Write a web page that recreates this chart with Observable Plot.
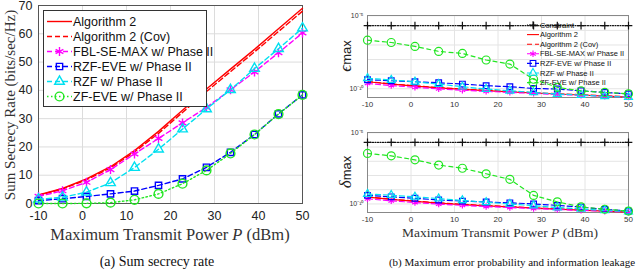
<!DOCTYPE html>
<html><head><meta charset="utf-8">
<script src="https://cdn.jsdelivr.net/npm/d3@7"></script>
<script src="https://cdn.jsdelivr.net/npm/@observablehq/plot@0.6"></script>
<style>
body{margin:0;background:#fff;}
#root{position:relative;width:640px;height:273px;overflow:hidden;background:#fff;}
.abs{position:absolute;}
.serif{font-family:"Liberation Serif","Times New Roman",serif;color:#333;white-space:nowrap;line-height:1;}
.rot{transform:translate(-50%,-50%) rotate(-90deg);}
.ctr{transform:translate(-50%,-50%);}
</style></head><body>
<div id="root">
  <div id="left" class="abs" style="left:0;top:0"></div>
  <div id="legL" class="abs" style="left:43px;top:10px"></div>
  <div class="abs serif rot" style="left:10px;top:105px;font-size:15px">Sum Secrecy Rate (bits/sec/Hz)</div>
  <div class="abs serif ctr" style="left:170px;top:235px;font-size:16.5px">Maximum Transmit Power <i>P</i> (dBm)</div>
  <div class="abs serif ctr" style="left:157px;top:262px;font-size:14px;color:#111">(a) Sum secrecy rate</div>

  <div id="rt" class="abs" style="left:330px;top:0"></div>
  <div id="rb" class="abs" style="left:330px;top:117px"></div>
  <div id="legR" class="abs" style="left:520px;top:18px"></div>
  <div class="abs rot" style="left:346px;top:56px;font-size:17px;color:#222;font-family:'Liberation Serif',serif;white-space:nowrap"><i>ϵ</i><span style="font-family:'Liberation Sans',sans-serif;font-size:13px">max</span></div>
  <div class="abs rot" style="left:346px;top:172px;font-size:17px;color:#222;font-family:'Liberation Serif',serif;white-space:nowrap"><i>δ</i><span style="font-family:'Liberation Sans',sans-serif;font-size:13px">max</span></div>
  <div class="abs serif ctr" style="left:500px;top:233px;font-size:13.5px">Maximum Transmit Power <i>P</i> (dBm)</div>
  <div class="abs serif ctr" style="left:512px;top:262px;font-size:11px;color:#111">(b) Maximum error probability and information leakage</div>
</div>
<script>
// ---------------- data ----------------
const P = [-10, -4.545, 0.909, 6.364, 11.818, 17.273, 22.727, 28.182, 33.636, 39.091, 44.545, 50];
const xTicks = [-10, 0, 10, 20, 30, 40, 50];
const rateTicks = [0, 10, 20, 30, 40, 50, 60, 70];
const leakTicks = [1e-10, 1e-5];
const leakTickLabels = ["10⁻¹⁰", "10⁻⁵"];
const leakGrid = [1e-10, 1e-9, 1e-8, 1e-7, 1e-6, 1e-5];

const seriesNames = ["Algorithm 2", "Algorithm 2 (Cov)", "FBL-SE-MAX w/ Phase II",
  "RZF-EVE w/ Phase II", "RZF w/ Phase II", "ZF-EVE w/ Phase II"];

// (a) sum secrecy rate (bits/sec/Hz)
const rateAlg2    = [3.0, 5.3, 8.7, 13.0, 18.7, 25.5, 33.0, 40.5, 47.5, 54.5, 61.8, 69.0];
const rateAlg2Cov = [2.9, 5.1, 8.4, 12.6, 18.2, 24.8, 32.2, 39.6, 46.6, 53.6, 60.8, 68.0];
const rateFbl     = [2.5, 4.5, 7.5, 12.0, 17.5, 23.0, 28.5, 34.0, 40.2, 46.5, 53.3, 60.3];
const rateRzfEve  = [1.0, 1.7, 2.5, 3.4, 4.4, 6.4, 8.7, 12.8, 18.1, 24.4, 31.7, 38.4];
const rateRzf     = [1.5, 2.2, 4.0, 7.3, 12.7, 19.2, 26.3, 33.4, 40.2, 47.7, 54.7, 62.0];
const rateZfEve   = [0.0, 0.0, 0.05, 0.3, 1.3, 3.4, 7.0, 11.7, 17.7, 24.4, 31.6, 38.4];

// (b) log10 of max error probability (epsilon) and leakage (delta)
const constraintValue = 2.1e-6;
const epsAlg2Exp    = [-9.52, -9.68, -9.82, -9.94, -10.04, -10.13, -10.21, -10.29, -10.36, -10.43, -10.50, -10.57];
const epsAlg2CovExp = [-9.50, -9.66, -9.80, -9.92, -10.02, -10.11, -10.19, -10.27, -10.34, -10.41, -10.48, -10.55];
const epsFblExp     = [-9.64, -9.78, -9.90, -10.01, -10.10, -10.18, -10.25, -10.32, -10.39, -10.45, -10.51, -10.57];
const epsRzfEveExp  = [-9.38, -9.45, -9.52, -9.59, -9.68, -9.79, -9.86, -9.98, -10.02, -10.14, -10.25, -10.36];
const epsRzfExp     = [-9.28, -9.40, -9.52, -9.68, -9.86, -10.02, -10.14, -10.25, -10.36, -10.43, -10.52, -10.58];
const epsZfEveExp   = [-6.67, -6.83, -7.10, -7.44, -7.58, -8.03, -8.31, -9.35, -9.90, -10.15, -10.25, -10.35];

const delAlg2Exp    = [-9.52, -9.68, -9.82, -9.94, -10.04, -10.13, -10.21, -10.29, -10.36, -10.43, -10.50, -10.57];
const delAlg2CovExp = [-9.50, -9.66, -9.80, -9.92, -10.02, -10.11, -10.19, -10.27, -10.34, -10.41, -10.48, -10.55];
const delFblExp     = [-9.64, -9.78, -9.90, -10.01, -10.10, -10.18, -10.25, -10.32, -10.39, -10.45, -10.51, -10.57];
const delRzfEveExp  = [-9.40, -9.50, -9.60, -9.72, -9.80, -9.86, -9.92, -10.00, -10.10, -10.22, -10.38, -10.50];
const delRzfExp     = [-9.30, -9.38, -9.50, -9.62, -9.75, -9.88, -10.00, -10.12, -10.25, -10.35, -10.45, -10.53];
const delZfEveExp   = [-6.45, -6.62, -6.90, -7.27, -7.49, -7.88, -8.27, -9.40, -9.85, -10.20, -10.37, -10.50];

// ---------------- styles ----------------
const DASH = "5,3", DOT = "1.5,2.5";
const styleA = {
  "Algorithm 2":            {color: "#ff0000", dash: null, symbol: null},
  "Algorithm 2 (Cov)":      {color: "#ff0000", dash: DASH, symbol: null},
  "FBL-SE-MAX w/ Phase II": {color: "#ff00ff", dash: DASH, symbol: "asterisk", r: 4.2},
  "RZF-EVE w/ Phase II":    {color: "#0000ff", dash: DASH, symbol: "square2", r: 4.0},
  "RZF w/ Phase II":        {color: "#00e0f0", dash: DASH, symbol: "triangle2", r: 4.6},
  "ZF-EVE w/ Phase II":     {color: "#22e622", dash: DOT, symbol: "circle", r: 4.4}
};
const styleB = {
  "Constraint":             {color: "#111111", dash: "1,1.5", symbol: "plus", r: 2.6},
  "Algorithm 2":            {color: "#ff0000", dash: null, symbol: null},
  "Algorithm 2 (Cov)":      {color: "#ff0000", dash: DASH, symbol: null},
  "FBL-SE-MAX w/ Phase II": {color: "#ff00ff", dash: DASH, symbol: "asterisk", r: 3.0},
  "RZF-EVE w/ Phase II":    {color: "#0000ff", dash: DASH, symbol: "square2", r: 3.6},
  "RZF w/ Phase II":        {color: "#00e0f0", dash: DASH, symbol: "triangle2", r: 3.8},
  "ZF-EVE w/ Phase II":     {color: "#22e622", dash: "4,3.5", symbol: "circle", r: 4.0}
};

const rows = (name, ys) => P.map((x, i) => ({x, y: ys[i], s: name}));
const rowsExp = (name, es) => P.map((x, i) => ({x, y: Math.pow(10, es[i]), s: name}));

function seriesMarks(data, st, lw) {
  const m = [Plot.line(data, {x: "x", y: "y", stroke: st.color, strokeWidth: lw,
    strokeDasharray: st.dash || undefined})];
  if (st.symbol) m.push(Plot.dot(data, {x: "x", y: "y", symbol: st.symbol, r: st.r,
    stroke: st.color, fill: "none", strokeWidth: lw}));
  return m;
}

// ---------------- (a) ----------------
const rateSeries = [rateAlg2, rateAlg2Cov, rateFbl, rateRzfEve, rateRzf, rateZfEve];
const leftPlot = Plot.plot({
  width: 320, height: 245, marginLeft: 38, marginRight: 18, marginTop: 5, marginBottom: 42,
  style: {fontFamily: "'Liberation Sans', Arial, sans-serif", fontSize: "12.5px", color: "#222", background: "transparent"},
  x: {domain: [-10, 50]},
  y: {domain: [0, 70]},
  marks: [
    Plot.gridX(xTicks, {stroke: "#dcdcdc", strokeOpacity: 1}),
    Plot.gridY(rateTicks, {stroke: "#dcdcdc", strokeOpacity: 1}),
    Plot.frame({stroke: "#555"}),
    Plot.axisX(xTicks, {tickSize: 0, tickPadding: 8, tickFormat: d => String(d), label: null}),
    Plot.axisY(rateTicks, {tickSize: 0, tickPadding: 6, tickFormat: d => String(d), label: null}),
    ...seriesNames.flatMap((n, i) => seriesMarks(rows(n, rateSeries[i]), styleA[n], 1.4))
  ]
});
document.getElementById("left").appendChild(leftPlot);

// ---------------- (b) ----------------
function leakPlot(seriesExp, height) {
  const names = ["Constraint", ...seriesNames];
  const data = [P.map(x => ({x, y: constraintValue, s: "Constraint"})),
    ...seriesNames.map((n, i) => rowsExp(n, seriesExp[i]))];
  return Plot.plot({
    width: 310, height, marginLeft: 37, marginRight: 12, marginTop: 15, marginBottom: 15,
    style: {fontFamily: "'Liberation Sans', Arial, sans-serif", fontSize: "8px", color: "#333", background: "transparent"},
    x: {domain: [-10, 50]},
    y: {type: "log", domain: [Math.pow(10, -10.6), Math.pow(10, -4.98)]},
    marks: [
      Plot.gridX(xTicks, {stroke: "#e4e4e4", strokeOpacity: 1}),
      Plot.gridY(leakGrid, {stroke: "#e4e4e4", strokeOpacity: 1}),
      Plot.frame({stroke: "#888"}),
      Plot.axisX(xTicks, {tickSize: 0, tickPadding: 4, tickFormat: d => String(d), label: null}),
      Plot.axisY(leakTicks, {tickSize: 0, tickPadding: 4, fontSize: 7,
        tickFormat: d => leakTickLabels[leakTicks.indexOf(d)], label: null}),
      ...names.flatMap((n, i) => seriesMarks(data[i], styleB[n], 1.2))
    ]
  });
}
document.getElementById("rt").appendChild(leakPlot(
  [epsAlg2Exp, epsAlg2CovExp, epsFblExp, epsRzfEveExp, epsRzfExp, epsZfEveExp], 112));
document.getElementById("rb").appendChild(leakPlot(
  [delAlg2Exp, delAlg2CovExp, delFblExp, delRzfEveExp, delRzfExp, delZfEveExp], 110));

// ---------------- legends ----------------
const symType = {asterisk: d3.symbolAsterisk, square2: d3.symbolSquare2, triangle2: d3.symbolTriangle2,
  circle: d3.symbolCircle, plus: d3.symbolPlus};
function legend(el, names, styles, o) {
  const svg = d3.select(el).append("svg").attr("width", o.w).attr("height", o.h)
    .style("display", "block").style("overflow", "visible");
  if (o.border) svg.append("rect").attr("x", 0.5).attr("y", 0.5).attr("width", o.w - 1).attr("height", o.h - 1)
    .attr("fill", "#fff").attr("stroke", "#333").attr("stroke-width", 1);
  names.forEach((n, i) => {
    const st = styles[n], y = o.y0 + i * o.dy;
    svg.append("line").attr("x1", o.x1).attr("x2", o.x2).attr("y1", y).attr("y2", y)
      .attr("stroke", st.color).attr("stroke-width", o.lw).attr("stroke-dasharray", st.dash || null);
    if (st.symbol) svg.append("path").attr("transform", `translate(${(o.x1 + o.x2) / 2},${y})`)
      .attr("d", d3.symbol(symType[st.symbol], Math.PI * st.r * st.r)())
      .attr("fill", "none").attr("stroke", st.color).attr("stroke-width", o.lw);
    svg.append("text").attr("x", o.tx).attr("y", y).attr("dy", "0.35em")
      .attr("font-family", "'Liberation Sans', Arial, sans-serif").attr("font-size", o.fs)
      .attr("fill", "#111").text(n);
  });
}
legend(document.getElementById("legL"), seriesNames, styleA,
  {w: 164, h: 97, border: true, y0: 11.5, dy: 15, x1: 4, x2: 29, tx: 30, fs: 12.5, lw: 1.4});
legend(document.getElementById("legR"), ["Constraint", ...seriesNames], styleB,
  {w: 105, h: 70, border: false, y0: 7, dy: 9.6, x1: 7, x2: 19, tx: 20, fs: 7.5, lw: 1.1});
</script>
</body></html>
